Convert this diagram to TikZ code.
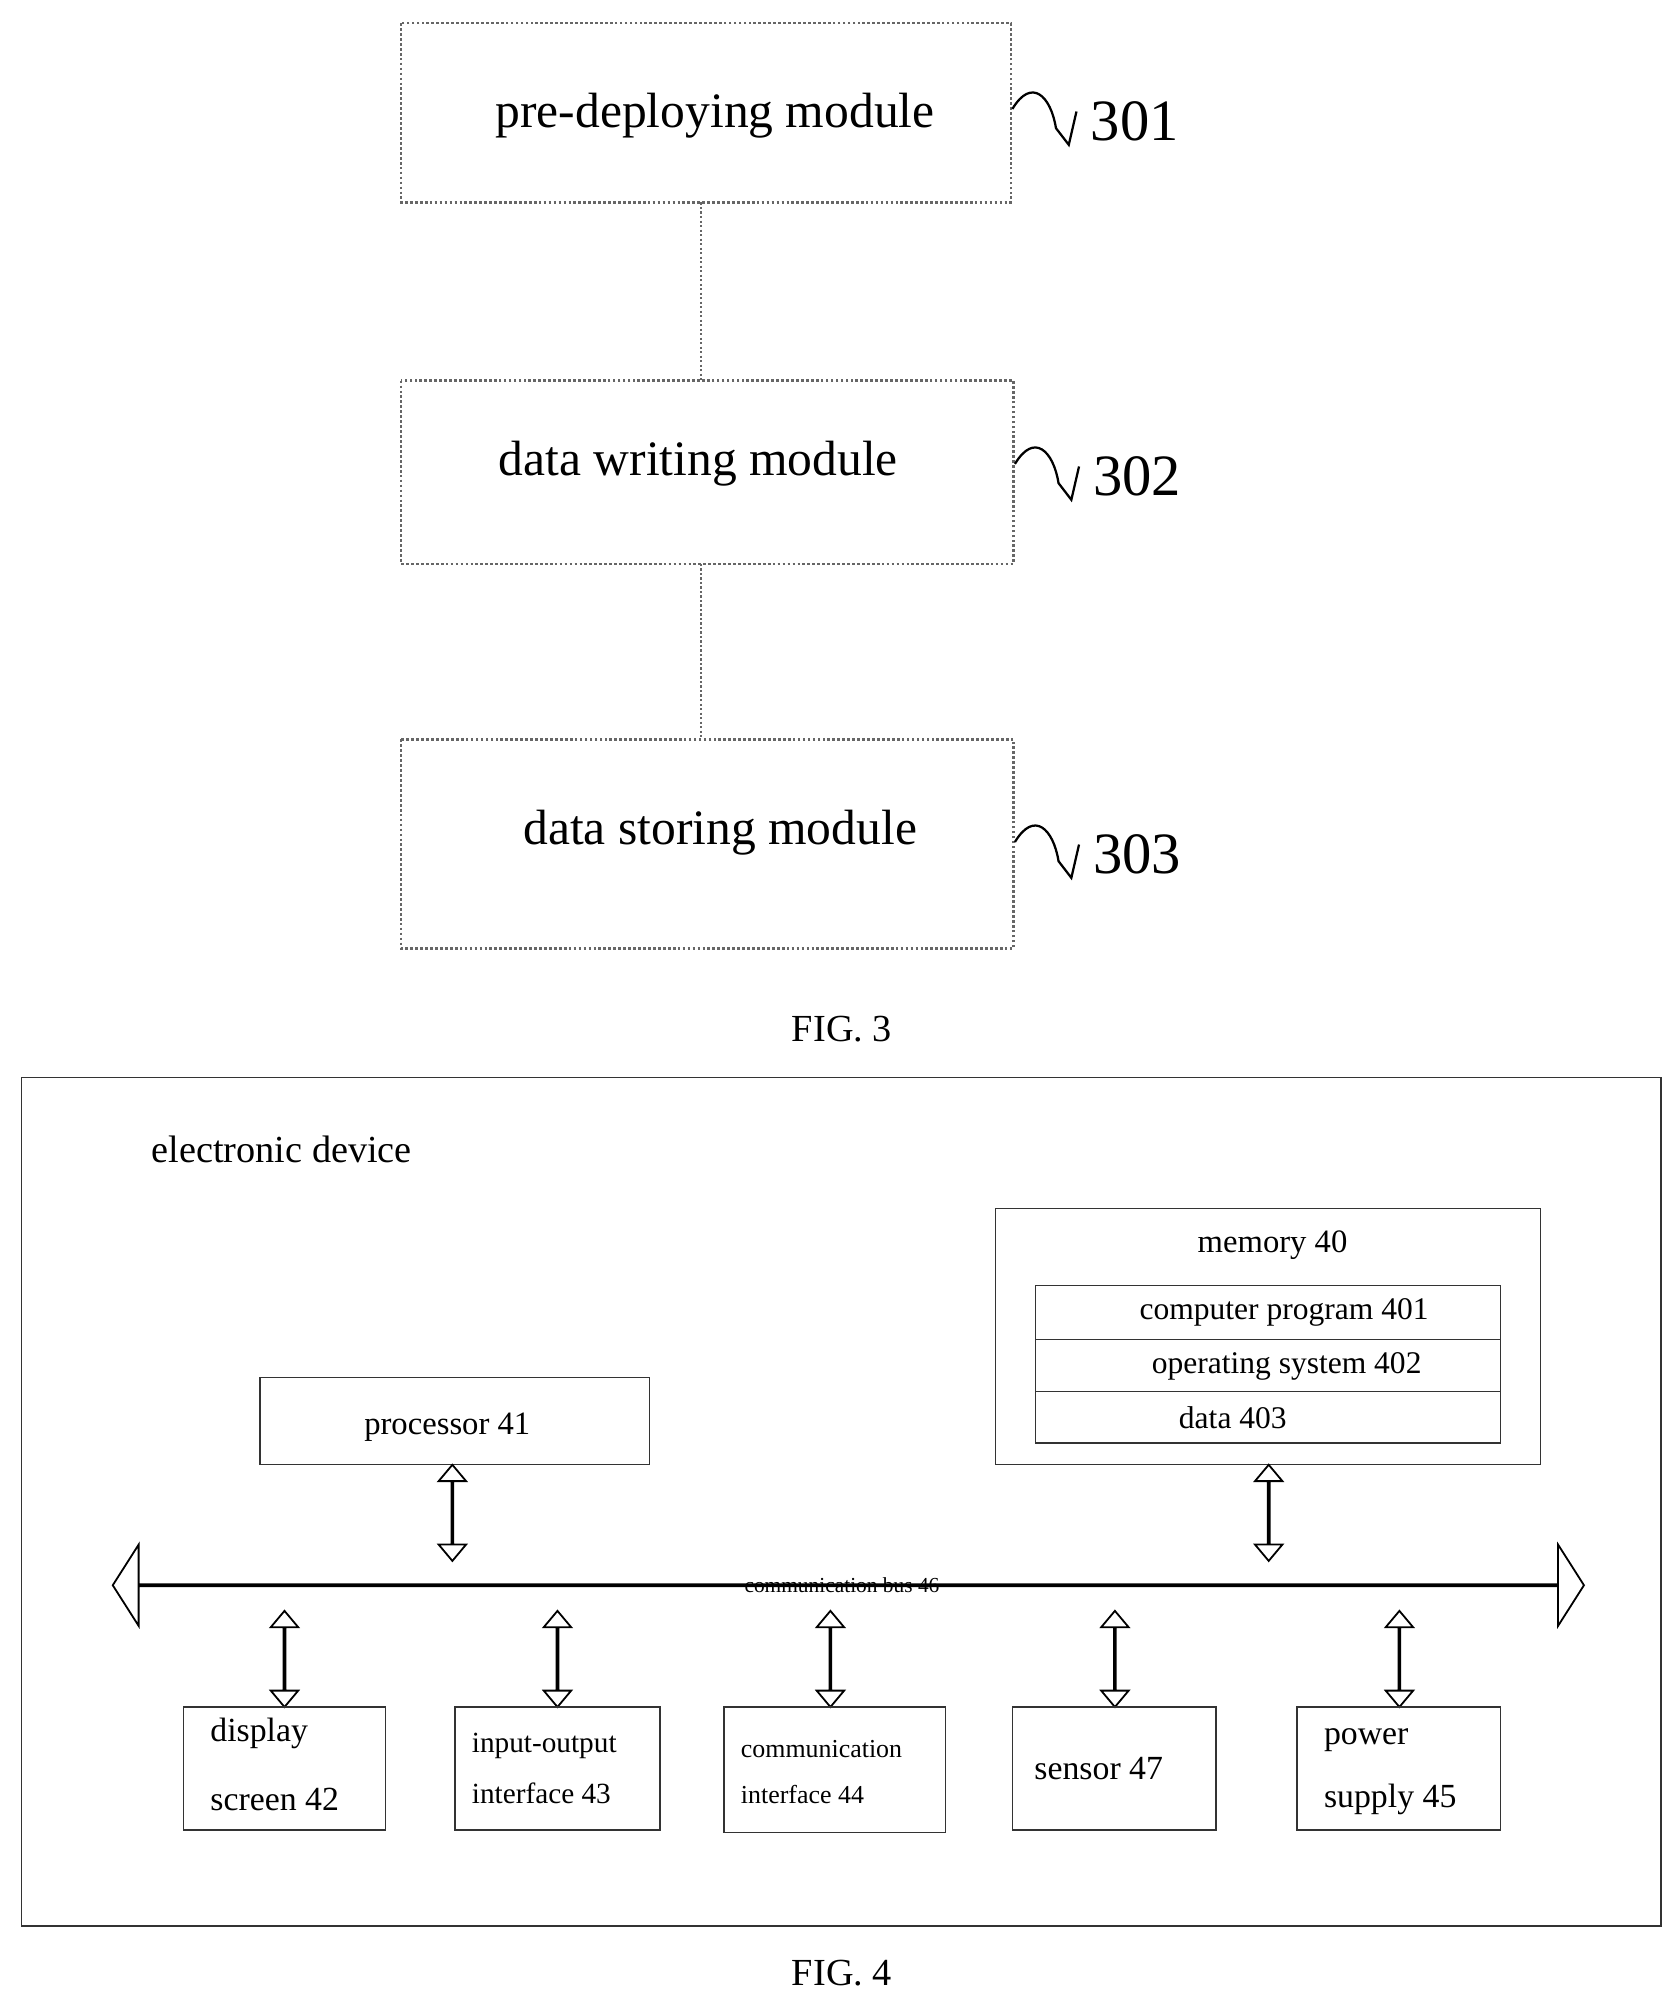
\documentclass[tikz,border=0pt]{standalone}
\usepackage{fontspec}
\setmainfont{Liberation Serif}
\usetikzlibrary{shapes.arrows}
\begin{document}
\begin{tikzpicture}[x=0.2mm,y=-0.2mm,
  mod/.style={draw=gray!80!black,densely dotted,line width=1.2pt},
  box/.style={draw=black!80,line width=0.6pt},
  varr/.style={double arrow,draw,line width=0.8pt,rotate=90,minimum width=2.8mm,minimum height=15mm,double arrow head extend=2mm,double arrow tip angle=80,inner sep=0pt},
  squig/.style={line width=1pt}]
\useasboundingbox (0,0) rectangle (1310,1563);
% FIG 3
\draw[mod] (313,18) rectangle (789,158);
\draw[mod] (313,297) rectangle (791,440);
\draw[mod] (313,577) rectangle (791,740);
\node[font=\fontsize{22}{24}\selectfont] (m1) at (558,90) {pre-deploying module};
\node[font=\fontsize{22}{24}\selectfont] (m2) at (545,362) {data writing module};
\node[font=\fontsize{22}{24}\selectfont] (m3) at (562,650) {data storing module};
\coordinate (a1) at (547,158); \coordinate (b1) at (547,297);
\coordinate (a2) at (547,440); \coordinate (b2) at (547,577);
\draw[mod,line width=1pt] (a1)--(b1); \draw[mod,line width=1pt] (a2)--(b2);
\foreach \y/\t/\x in {95/301/790,372/302/792,667/303/792}{
  \draw[squig] (\x,\y-10) .. controls (\x+15,\y-35) and (\x+30,\y-20) .. (\x+34,\y+5) -- (\x+44,\y+18) -- (\x+50,\y-8);
  \node[font=\fontsize{26}{28}\selectfont,anchor=west] (l\t) at (\x+55,\y) {\t};
}
\node[font=\fontsize{17}{19}\selectfont] (f3) at (657,803) {FIG. 3};
% FIG 4
\draw[box] (17,841) rectangle (1296,1503);
\node[font=\fontsize{17}{19}\selectfont,anchor=west] (ed) at (112,897) {electronic device};
\draw[box] (777,943) rectangle (1202,1143);
\node[font=\fontsize{14.5}{16}\selectfont] (mem) at (993,972) {memory 40};
\draw[box] (808,1003) rectangle (1171,1045);
\draw[box] (808,1045) rectangle (1171,1086);
\draw[box] (808,1086) rectangle (1171,1126);
\node[font=\fontsize{14}{16}\selectfont] (cp) at (1002,1024) {computer program 401};
\node[font=\fontsize{14}{16}\selectfont] (os) at (1004,1066) {operating system 402};
\node[font=\fontsize{14}{16}\selectfont] (dt) at (962,1106) {data 403};
\draw[box] (203,1075) rectangle (507,1143);
\node[font=\fontsize{14.5}{16}\selectfont] (pr) at (349,1114) {processor 41};
\node[double arrow,draw,line width=0.8pt,minimum width=7.8mm,minimum height=229.6mm,double arrow head extend=6.2mm,double arrow tip angle=115,inner sep=0pt] (bus) at (662,1237) {};
\node[font=\fontsize{9.5}{11}\selectfont] (bl) at (657,1237) {communication bus 46};
\node[varr] (ap) at (353,1180.5) {};
\node[varr] (am) at (990,1180.5) {};
\foreach \x/\n in {222/1,435/2,648/3,870/4,1092/5}{\node[varr] (b\n) at (\x,1294.5) {};}
\draw[box] (143,1332) rectangle (301,1428);
\draw[box] (355,1332) rectangle (515,1428);
\draw[box] (565,1332) rectangle (738,1430);
\draw[box] (790,1332) rectangle (949,1428);
\draw[box] (1012,1332) rectangle (1171,1428);
\node[font=\fontsize{15}{17}\selectfont,anchor=west] (d1) at (158,1353) {display};
\node[font=\fontsize{15}{17}\selectfont,anchor=west] (d2) at (158,1404) {screen 42};
\node[font=\fontsize{13}{15}\selectfont,anchor=west] (i1) at (362,1362) {input-output};
\node[font=\fontsize{13}{15}\selectfont,anchor=west] (i2) at (362,1399) {interface 43};
\node[font=\fontsize{11.5}{13}\selectfont,anchor=west] (c1) at (572,1365) {communication};
\node[font=\fontsize{11.5}{13}\selectfont,anchor=west] (c2) at (572,1400) {interface 44};
\node[font=\fontsize{15}{17}\selectfont,anchor=west] (s1) at (801,1380) {sensor 47};
\node[font=\fontsize{15}{17}\selectfont,anchor=west] (p1) at (1027,1358) {power};
\node[font=\fontsize{15}{17}\selectfont,anchor=west] (p2) at (1027,1404) {supply 45};
\node[font=\fontsize{17}{19}\selectfont] (f4) at (657,1540) {FIG. 4};
\end{tikzpicture}
\end{document}
